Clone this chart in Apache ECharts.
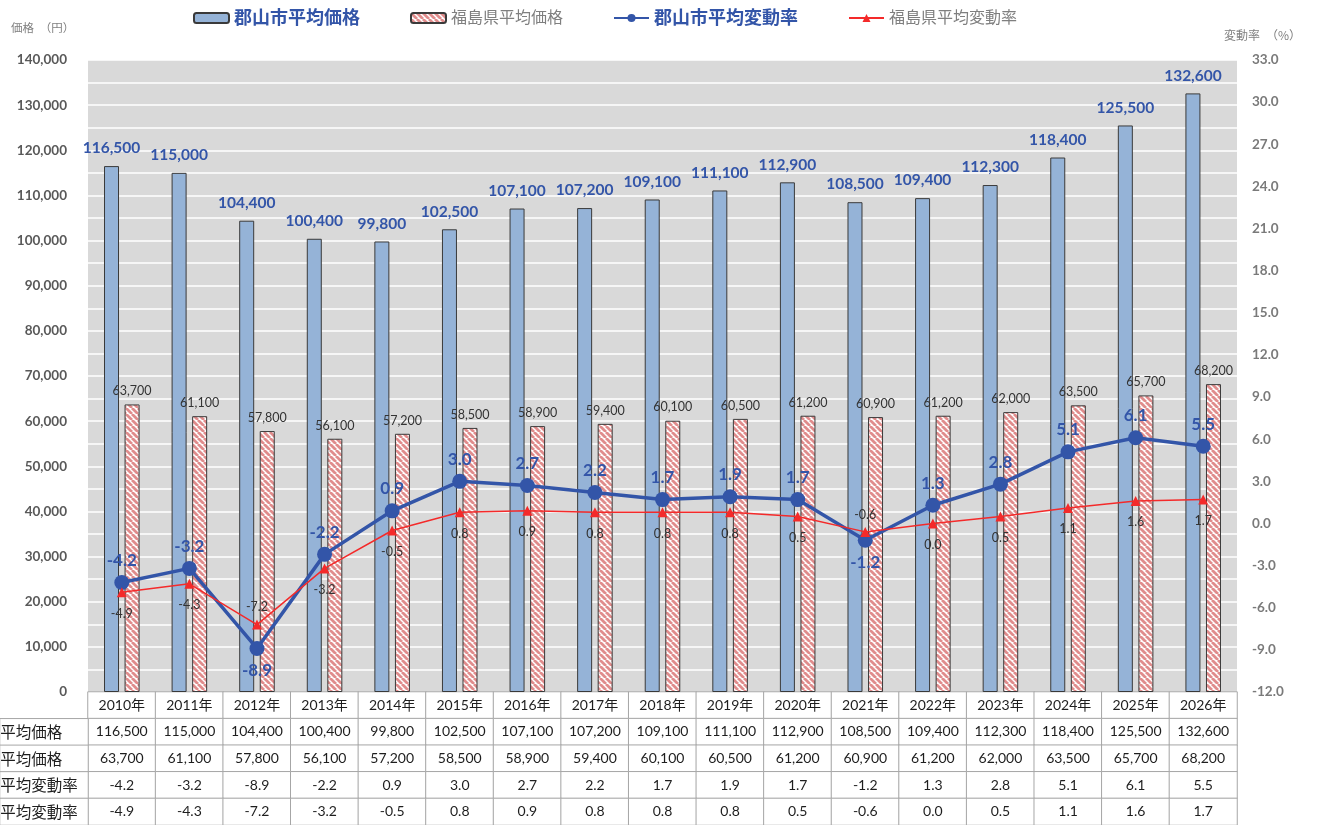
<!DOCTYPE html>
<html><head><meta charset="utf-8">
<script src="https://cdn.jsdelivr.net/npm/echarts@6/dist/echarts.min.js"></script>
<style>html,body{margin:0;padding:0;background:#fff}#c{width:1317px;height:825px}</style>
</head><body><div id="c"></div>
<script>
const years = [2010,2011,2012,2013,2014,2015,2016,2017,2018,2019,2020,2021,2022,2023,2024,2025,2026];
const yearLabels = years.map(y => y + '年');
const koriyamaPrice = [116500,115000,104400,100400,99800,102500,107100,107200,109100,111100,112900,108500,109400,112300,118400,125500,132600];
const fukushimaPrice = [63700,61100,57800,56100,57200,58500,58900,59400,60100,60500,61200,60900,61200,62000,63500,65700,68200];
const koriyamaRate = [-4.2,-3.2,-8.9,-2.2,0.9,3.0,2.7,2.2,1.7,1.9,1.7,-1.2,1.3,2.8,5.1,6.1,5.5];
const fukushimaRate = [-4.9,-4.3,-7.2,-3.2,-0.5,0.8,0.9,0.8,0.8,0.8,0.5,-0.6,0.0,0.5,1.1,1.6,1.7];
const seriesNames = ['郡山市平均価格','福島県平均価格','郡山市平均変動率','福島県平均変動率'];
const rowNames = ['郡山市平均価格','福島県平均価格','郡山市平均変動率','福島県平均変動率'];
const axisTitleLeft = '価格　（円）';
const axisTitleRight = '変動率　（%）';

const FONT = 'Lato, "Noto Sans CJK JP", sans-serif';
const CJK = '"Noto Sans CJK JP", sans-serif';
const BLUE = '#3355a8';
const RED = '#f42a2a';
const fmtPrice = v => Number(v).toLocaleString('en-US');
const fmtRate = v => Number(v).toFixed(1);

function makeHatch() {
  const c = document.createElement('canvas');
  c.width = 6; c.height = 6;
  const g = c.getContext('2d');
  g.fillStyle = '#ffffff'; g.fillRect(0, 0, 6, 6);
  g.strokeStyle = '#e08c8c'; g.lineWidth = 2.8;
  g.beginPath();
  for (const o of [-6, 0, 6]) { g.moveTo(o, 0); g.lineTo(o + 6, 6); }
  g.stroke();
  return c;
}
const hatch = { image: makeHatch(), repeat: 'repeat' };

const tableText = [
  yearLabels,
  koriyamaPrice.map(fmtPrice),
  fukushimaPrice.map(fmtPrice),
  koriyamaRate.map(fmtRate),
  fukushimaRate.map(fmtRate)
];
const tableData = [];
for (let r = 0; r < tableText.length; r++)
  for (let i = 0; i < years.length; i++) tableData.push([i, r, 1]);
const labelData = rowNames.map((n, r) => [0, r, 1]);

const chart = echarts.init(document.getElementById('c'));
chart.setOption({
  animation: false,
  textStyle: { fontFamily: FONT },
  title: [
    { text: axisTitleLeft, left: 6, top: 17, textStyle: { fontSize: 11.5, fontWeight: 'normal', color: '#7f7f7f', fontFamily: CJK } },
    { text: axisTitleRight, left: 1219, top: 24, textStyle: { fontSize: 12, fontWeight: 'normal', color: '#7f7f7f', fontFamily: CJK } }
  ],
  legend: {
    left: 188, top: 4, itemGap: 50, itemWidth: 35, itemHeight: 10,
    data: [
      { name: seriesNames[0], textStyle: { color: BLUE, fontWeight: 'bold', fontSize: 18 } },
      { name: seriesNames[1], textStyle: { color: '#7f7f7f', fontSize: 16 } },
      { name: seriesNames[2], textStyle: { color: BLUE, fontWeight: 'bold', fontSize: 18 } },
      { name: seriesNames[3], textStyle: { color: '#7f7f7f', fontSize: 16 } }
    ]
  },
  grid: [
    { left: 88, top: 60, width: 1149, height: 632, show: true, backgroundColor: '#d9d9d9', borderWidth: 0 },
    { left: 88, top: 692, width: 1149, height: 134, show: false },
    { left: 0, top: 718.8, width: 88, height: 107.2, show: false }
  ],
  xAxis: [
    { type: 'category', data: yearLabels, gridIndex: 0, show: false },
    { type: 'category', data: yearLabels, gridIndex: 1, show: false },
    { type: 'category', data: ['項目'], gridIndex: 2, show: false }
  ],
  yAxis: [
    { type: 'value', gridIndex: 0, min: 0, max: 140000, interval: 10000,
      axisLine: { show: false }, axisTick: { show: false },
      axisLabel: { margin: 21, color: '#595959', fontWeight: 'bold', fontSize: 13.5, formatter: fmtPrice },
      splitLine: { lineStyle: { color: '#ffffff', width: 1.5 } },
      minorTick: { show: false, splitNumber: 2 },
      minorSplitLine: { show: true, lineStyle: { color: '#ffffff', width: 1.5 } } },
    { type: 'value', gridIndex: 0, position: 'right', min: -12, max: 33, interval: 3,
      axisLine: { show: false }, axisTick: { show: false }, splitLine: { show: false },
      axisLabel: { margin: 15, color: '#7a7a7a', fontWeight: 'bold', fontSize: 13.5, formatter: fmtRate } },
    { type: 'category', gridIndex: 1, data: ['年', 'r1', 'r2', 'r3', 'r4'], inverse: true, show: false },
    { type: 'category', gridIndex: 2, data: rowNames, inverse: true, show: false }
  ],
  series: [
    { name: seriesNames[0], type: 'bar', xAxisIndex: 0, yAxisIndex: 0, data: koriyamaPrice,
      barWidth: 15, barGap: '37%',
      itemStyle: { color: '#95b3d7', borderColor: '#3a3a3a', borderWidth: 1 },
      label: { show: true, position: 'top', distance: 10, color: BLUE, fontWeight: 'bold', fontSize: 15.5, formatter: p => fmtPrice(p.value) } },
    { name: seriesNames[1], type: 'bar', xAxisIndex: 0, yAxisIndex: 0, data: fukushimaPrice,
      barWidth: 15,
      itemStyle: { color: hatch, borderColor: '#3a3a3a', borderWidth: 1 },
      label: { show: true, position: 'top', distance: 7, color: '#333', fontSize: 12.5, formatter: p => fmtPrice(p.value) } },
    { name: seriesNames[2], type: 'line', xAxisIndex: 0, yAxisIndex: 1,
      data: koriyamaRate.map((v, i) => (years[i] === 2012 || years[i] === 2021) ? { value: v, label: { position: 'bottom' } } : v),
      color: BLUE, symbol: 'circle', symbolSize: 15, lineStyle: { width: 3.5, color: BLUE },
      itemStyle: { color: BLUE },
      label: { show: true, position: 'top', distance: 6, color: BLUE, fontWeight: 'bold', fontSize: 17, formatter: p => fmtRate(p.value) } },
    { name: seriesNames[3], type: 'line', xAxisIndex: 0, yAxisIndex: 1,
      data: fukushimaRate.map((v, i) => (years[i] === 2012 || years[i] === 2021) ? { value: v, label: { position: 'top', distance: 6 } } : v),
      color: RED, symbol: 'triangle', symbolSize: 10, lineStyle: { width: 1.5, color: RED },
      itemStyle: { color: RED },
      label: { show: true, position: 'bottom', distance: 10, color: '#333', fontSize: 12.5, formatter: p => fmtRate(p.value) } },
    { type: 'heatmap', xAxisIndex: 1, yAxisIndex: 2, data: tableData, silent: true,
      itemStyle: { color: '#ffffff', borderColor: '#a6a6a6', borderWidth: 1 },
      emphasis: { disabled: true },
      label: { show: true, color: '#1e1e1e', fontSize: 14, formatter: p => tableText[p.value[1]][p.value[0]] } },
    { type: 'heatmap', xAxisIndex: 2, yAxisIndex: 3, data: labelData, silent: true,
      itemStyle: { color: '#ffffff', borderColor: '#a6a6a6', borderWidth: 1 },
      emphasis: { disabled: true },
      label: { show: true, position: 'insideLeft', distance: 0, offset: [-45.5, 0], color: '#1e1e1e', fontSize: 15.5, fontFamily: CJK, formatter: p => rowNames[p.value[1]] } }
  ]
});
</script>
</body></html>
